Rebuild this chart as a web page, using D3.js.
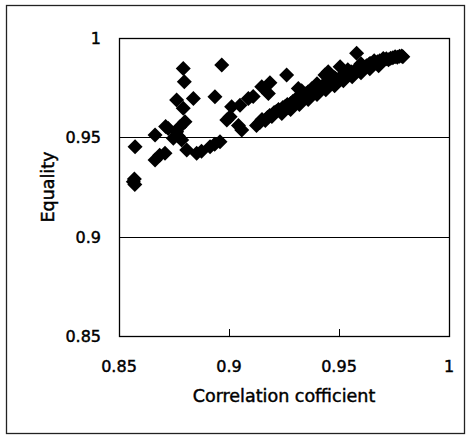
<!DOCTYPE html>
<html>
<head>
<meta charset="utf-8">
<script src="https://cdn.jsdelivr.net/npm/d3@7"></script>
<style>
  html, body { margin: 0; padding: 0; background: #fff; }
  svg { display: block; }
  text { font-family: "DejaVu Sans", sans-serif; fill: #000; stroke: #000; stroke-width: 0.45px; }
</style>
</head>
<body>
<svg id="chart" width="472" height="436"></svg>
<script>
// ---- data ----
const xTicks = [0.85, 0.9, 0.95, 1];
const yTicks = [0.85, 0.9, 0.95, 1];
const xTickLabels = ["0.85", "0.9", "0.95", "1"];
const yTickLabels = ["0.85", "0.9", "0.95", "1"];
const xTitle = "Correlation cofficient";
const yTitle = "Equality";

// left cluster
const corrLeft = [0.8565, 0.8572, 0.8570, 0.8573, 0.8664, 0.8664, 0.8685, 0.8709, 0.8712, 0.8724,
  0.8747, 0.8762, 0.8770, 0.8777, 0.8785, 0.8792, 0.8800, 0.8762, 0.8792, 0.8797,
  0.8838, 0.8808, 0.8853, 0.8875, 0.8914, 0.8935, 0.8959, 0.8936, 0.8967, 0.8990,
  0.9005, 0.9012, 0.9043, 0.9058, 0.9050, 0.9088, 0.9110];
const eqLeft = [0.9277, 0.9262, 0.9290, 0.9453, 0.9512, 0.9386, 0.9410, 0.9420, 0.9555, 0.9545,
  0.9495, 0.9528, 0.9505, 0.9553, 0.9486, 0.9646, 0.9578, 0.9688, 0.9847, 0.9780,
  0.9696, 0.9436, 0.9420, 0.9430, 0.9453, 0.9465, 0.9478, 0.9704, 0.9864, 0.9587,
  0.9604, 0.9654, 0.9560, 0.9537, 0.9662, 0.9696, 0.9705];

// main band
const corrBand = [0.9125, 0.9140, 0.9150, 0.9165, 0.9175, 0.9185, 0.9195, 0.9205, 0.9215, 0.9225,
  0.9235, 0.9245, 0.9255, 0.9265, 0.9270, 0.9280, 0.9290, 0.9300, 0.9310, 0.9315,
  0.9325, 0.9335, 0.9345, 0.9350, 0.9360, 0.9370, 0.9380, 0.9390, 0.9400, 0.9410,
  0.9420, 0.9430, 0.9440, 0.9450, 0.9455, 0.9465, 0.9475, 0.9485, 0.9495, 0.9505,
  0.9515, 0.9525, 0.9535, 0.9545, 0.9555, 0.9565, 0.9575, 0.9585, 0.9595, 0.9605,
  0.9615, 0.9625, 0.9635, 0.9645, 0.9655, 0.9665, 0.9675, 0.9685, 0.9695, 0.9705,
  0.9715, 0.9725, 0.9735, 0.9745, 0.9755, 0.9765, 0.9775, 0.9785, 0.9790];
const eqBand = [0.9560, 0.9575, 0.9590, 0.9585, 0.9600, 0.9610, 0.9605, 0.9625, 0.9630, 0.9640,
  0.9635, 0.9650, 0.9655, 0.9665, 0.9650, 0.9670, 0.9680, 0.9675, 0.9690, 0.9705,
  0.9695, 0.9710, 0.9700, 0.9720, 0.9730, 0.9715, 0.9735, 0.9745, 0.9740, 0.9755,
  0.9750, 0.9765, 0.9770, 0.9760, 0.9780, 0.9785, 0.9775, 0.9795, 0.9790, 0.9800,
  0.9810, 0.9805, 0.9820, 0.9815, 0.9830, 0.9825, 0.9840, 0.9845, 0.9835, 0.9855,
  0.9850, 0.9860, 0.9865, 0.9870, 0.9865, 0.9875, 0.9880, 0.9885, 0.9880, 0.9890,
  0.9895, 0.9890, 0.9898, 0.9900, 0.9905, 0.9903, 0.9908, 0.9910, 0.9906];

// lower and upper rows thickening the band
const corrBandLow = [0.9240, 0.9280, 0.9320, 0.9360, 0.9400, 0.9440, 0.9480, 0.9520, 0.9560, 0.9600, 0.9640, 0.9680];
const eqBandLow = [0.9620, 0.9640, 0.9665, 0.9690, 0.9715, 0.9740, 0.9760, 0.9785, 0.9805, 0.9825, 0.9845, 0.9860];
const corrBandHigh = [0.9330, 0.9400, 0.9460, 0.9540, 0.9600, 0.9660];
const eqBandHigh = [0.9735, 0.9770, 0.9800, 0.9840, 0.9870, 0.9885];

// points sticking out above the band
const corrUpper = [0.9262, 0.9149, 0.9186, 0.9179, 0.9315, 0.9376, 0.9436, 0.9451, 0.9505, 0.9480, 0.9580, 0.9641, 0.9701];
const eqUpper = [0.9814, 0.9755, 0.9775, 0.9721, 0.9746, 0.9745, 0.9814, 0.9830, 0.9855, 0.9800, 0.9923, 0.9872, 0.9897];

// ---- layout ----
const svg = d3.select("#chart");
const L = 119, R = 449, T = 38, B = 336;
const x = d3.scaleLinear().domain([0.85, 1]).range([L, R]);
const y = d3.scaleLinear().domain([0.85, 1]).range([B, T]);

// outer frame
svg.append("rect").attr("x", 6.5).attr("y", 5.5).attr("width", 458).attr("height", 428)
  .attr("fill", "none").attr("stroke", "#222").attr("stroke-width", 1.3);

// gridlines
svg.append("g").selectAll("line").data(yTicks.slice(1, 3)).join("line")
  .attr("x1", L).attr("x2", R)
  .attr("y1", d => Math.round(y(d)) + 0.5).attr("y2", d => Math.round(y(d)) + 0.5)
  .attr("stroke", "#000").attr("stroke-width", 1.2);

// data points
const pts = [];
const addSeries = (cs, es) => cs.forEach((c, i) => pts.push([c, es[i]]));
addSeries(corrLeft, eqLeft);
addSeries(corrBand, eqBand);
addSeries(corrBandLow, eqBandLow);
addSeries(corrBandHigh, eqBandHigh);
addSeries(corrUpper, eqUpper);
const r = 7.5;
const diamond = `M0,${-r}L${r},0L0,${r}L${-r},0Z`;
svg.append("g").selectAll("path").data(pts).join("path")
  .attr("d", diamond)
  .attr("transform", d => `translate(${x(d[0])},${y(d[1])})`)
  .attr("fill", "#000");

// plot border
svg.append("rect").attr("x", L + 0.5).attr("y", T + 0.5).attr("width", R - L).attr("height", B - T)
  .attr("fill", "none").attr("stroke", "#000").attr("stroke-width", 1.3);

// x ticks (inward)
svg.append("g").selectAll("line").data(xTicks.slice(1, 3)).join("line")
  .attr("x1", d => Math.round(x(d)) + 0.5).attr("x2", d => Math.round(x(d)) + 0.5)
  .attr("y1", B).attr("y2", B - 7).attr("stroke", "#000").attr("stroke-width", 1);

// tick labels
svg.append("g").selectAll("text").data(xTicks).join("text")
  .attr("x", d => x(d)).attr("y", 372)
  .attr("text-anchor", "middle").attr("font-size", 16)
  .text((d, i) => xTickLabels[i]);
svg.append("g").selectAll("text").data(yTicks).join("text")
  .attr("x", 101).attr("y", d => y(d) + 6)
  .attr("text-anchor", "end").attr("font-size", 16)
  .text((d, i) => yTickLabels[i]);

// titles
svg.append("text").attr("x", (L + R) / 2).attr("y", 402)
  .attr("text-anchor", "middle").attr("font-size", 17.5).text(xTitle);
svg.append("text").attr("transform", `translate(54,${(T + B) / 2}) rotate(-90)`)
  .attr("text-anchor", "middle").attr("font-size", 17.5).text(yTitle);
</script>
</body>
</html>
